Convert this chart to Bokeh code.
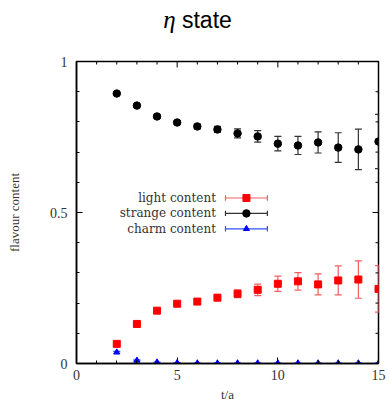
from bokeh.plotting import figure
from bokeh.models import ColumnDataSource, Whisker, TeeHead, Range1d, FixedTicker, Div
from bokeh.layouts import column
from bokeh.core.properties import value
from bokeh.embed import file_html
from bokeh.resources import INLINE

# time slices
t = [2, 3, 4, 5, 6, 7, 8, 9, 10, 11, 12, 13, 14, 15]

# light-quark content and its error
light = [0.065, 0.131, 0.175, 0.198, 0.205, 0.218, 0.231, 0.244, 0.264, 0.272, 0.262, 0.275, 0.278, 0.247]
light_err = [0.004, 0.005, 0.006, 0.006, 0.007, 0.009, 0.013, 0.019, 0.025, 0.029, 0.035, 0.048, 0.062, 0.077]

# strange-quark content and its error
strange = [0.894, 0.854, 0.818, 0.798, 0.785, 0.775, 0.762, 0.752, 0.728, 0.722, 0.732, 0.715, 0.709, 0.735]
strange_err = [0.003, 0.004, 0.005, 0.006, 0.008, 0.010, 0.015, 0.019, 0.024, 0.030, 0.035, 0.049, 0.067, 0.090]

# charm-quark content and its error
charm = [0.037, 0.010, 0.004, 0.002, 0.001, 0.001, 0.001, 0.001, 0.001, 0.001, 0.001, 0.001, 0.001, 0.001]
charm_err = [0.003, 0.002, 0.001, 0.001, 0.001, 0.001, 0.001, 0.001, 0.001, 0.001, 0.001, 0.001, 0.001, 0.001]

x_ticks = [0, 5, 10, 15]
y_ticks = [0, 0.5, 1]
key_names = ["light content", "strange content", "charm content"]

SERIF = "Liberation Serif"
RED, RED_BAR = "#ff0000", "#f06060"
BLACK, BLACK_BAR = "#000000", "#333333"
BLUE, BLUE_BAR = "#0000ff", "#3050ff"

W, H_TITLE, H = 389, 40, 407
X0, X1, Y0, Y1 = 0, 15, 0, 1

title = Div(text='<div style="width:389px;text-align:center;padding:8px 0 0 6px;'
                 'font-family:\'Liberation Sans\';font-size:23px;line-height:23px;color:black;">'
                 '<i style="font-family:\'Liberation Serif\';font-size:25px;">η</i>&nbsp;state</div>',
            width=W, height=H_TITLE, margin=(0, 0, 0, 0))

p = figure(width=W, height=H - H_TITLE, output_backend="svg", toolbar_location=None,
           x_range=Range1d(X0, X1), y_range=Range1d(Y0, Y1),
           min_border_left=76, min_border_right=11, min_border_top=21, min_border_bottom=44,
           margin=(0, 0, 0, 0))
p.grid.visible = False
p.outline_line_color = "black"
p.outline_line_width = 1.5
p.background_fill_color = "white"

MAJ, MIN = 6, 3   # inward tick lengths in pixels


def minor_list(ticks):
    step = (ticks[1] - ticks[0]) / 5
    return [ticks[0] + i * step for i in range(5 * (len(ticks) - 1) + 1)]


for ax, ticks in ((p.xaxis[0], x_ticks), (p.yaxis[0], y_ticks)):
    ax.ticker = FixedTicker(ticks=ticks, minor_ticks=minor_list(ticks))
    ax.axis_line_width = 1.5
    ax.major_tick_in = MAJ
    ax.major_tick_out = 0
    ax.minor_tick_in = MIN
    ax.minor_tick_out = 0
    ax.major_label_text_font = SERIF
    ax.major_label_text_font_size = "14px"
    ax.major_label_text_color = "#333333"
    ax.axis_label_text_font = SERIF
    ax.axis_label_text_font_style = "normal"
    ax.axis_label_text_font_size = "13px"
    ax.axis_label_text_color = "#333333"

p.xaxis[0].major_label_standoff = 6
p.yaxis[0].major_label_standoff = 9
p.xaxis.major_label_overrides = {0: "0", 5: "5", 10: "10", 15: "15"}
p.yaxis.major_label_overrides = {0: "0", 0.5: "0.5", 1: "1"}
p.xaxis.axis_label = "t/a"
p.yaxis.axis_label = "flavour content"
p.xaxis[0].axis_label_standoff = 4
p.yaxis[0].axis_label_standoff = 25

# mirrored inward ticks on the top and right edges
px_x = (X1 - X0) / (W - 76 - 11)
px_y = (Y1 - Y0) / (H - H_TITLE - 21 - 44)
top_x = minor_list(x_ticks)
top_len = [(MAJ if v in x_ticks else MIN) * px_y for v in top_x]
p.segment(x0=top_x, y0=[Y1] * len(top_x), x1=top_x, y1=[Y1 - d for d in top_len],
          line_color="black", line_width=1)
right_y = minor_list(y_ticks)
right_len = [(MAJ if any(abs(v - m) < 1e-9 for m in y_ticks) else MIN) * px_x for v in right_y]
p.segment(x0=[X1] * len(right_y), y0=right_y, x1=[X1 - d for d in right_len], y1=right_y,
          line_color="black", line_width=1)


def series(vals, errs, color, bar_color, marker, size):
    src = ColumnDataSource(dict(x=t, y=vals,
                                lo=[v - e for v, e in zip(vals, errs)],
                                hi=[v + e for v, e in zip(vals, errs)]))
    p.add_layout(Whisker(base="x", lower="lo", upper="hi", source=src,
                         line_color=bar_color, line_width=1.2,
                         upper_head=TeeHead(size=7, line_color=bar_color, line_width=1.2),
                         lower_head=TeeHead(size=7, line_color=bar_color, line_width=1.2)))
    p.scatter("x", "y", source=src, marker=marker, size=size,
              fill_color=color, line_color=color)


styles = [(RED, RED_BAR, "square", 7), (BLACK, BLACK_BAR, "circle", 7.5), (BLUE, BLUE_BAR, "triangle", 6)]
for (vals, errs), st in zip(((light, light_err), (strange, strange_err), (charm, charm_err)), styles):
    series(vals, errs, *st)

# key: label on the left, error-bar sample on the right
key_y = [0.548, 0.497, 0.446]
x_text, xa, xb, xm = 6.93, 7.4, 9.48, 8.44
p.text(x=[x_text] * 3, y=key_y, text=key_names, text_align="right", text_baseline="middle",
       text_font=value("DejaVu Serif"), text_font_size="12px", text_color="#333333")
for yk, (c, bc, m, s) in zip(key_y, styles):
    p.segment(x0=[xa], y0=[yk], x1=[xb], y1=[yk], line_color=bc, line_width=1.2)
    p.segment(x0=[xa, xb], y0=[yk - 0.009] * 2, x1=[xa, xb], y1=[yk + 0.009] * 2,
              line_color=bc, line_width=1.2)
    p.scatter(x=[xm], y=[yk], marker=m, size=s, fill_color=c, line_color=c)

layout = column(title, p, spacing=0)
open("out.html", "w").write(file_html(layout, INLINE))
